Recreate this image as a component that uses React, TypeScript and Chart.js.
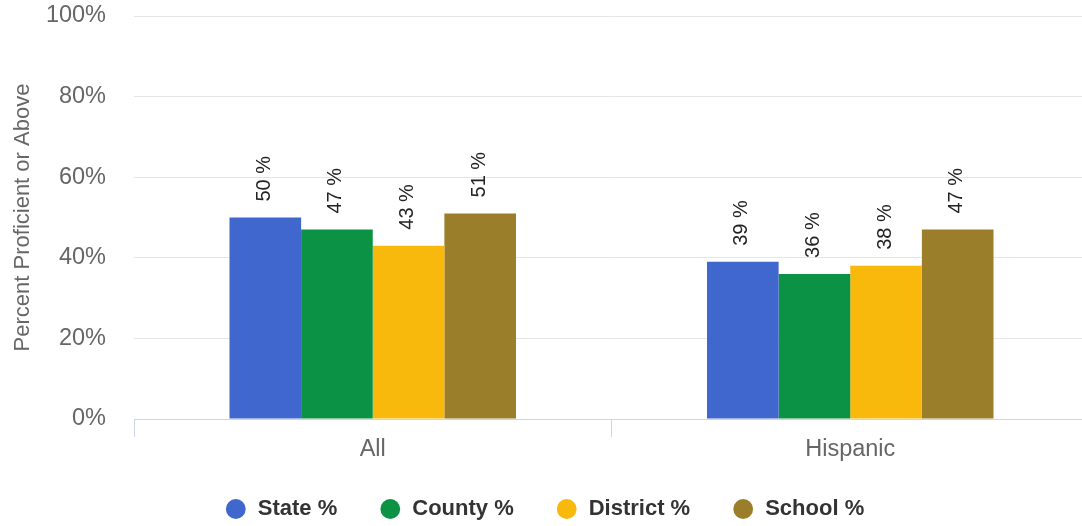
import React, { useEffect, useRef } from "react";
import { Chart, registerables } from "chart.js";

Chart.register(...registerables);

const categories = ["All", "Hispanic"];
const seriesNames = ["State %", "County %", "District %", "School %"];
const stateValues = [50, 39];
const countyValues = [47, 36];
const districtValues = [43, 38];
const schoolValues = [51, 47];
const seriesColors = ["#3f67cd", "#0b9244", "#f8b80c", "#9a7e2a"];
const yTickValues = [0, 20, 40, 60, 80, 100];
const yTitle = "Percent Proficient or Above";

const FONT = "'Liberation Sans', Arial, sans-serif";

const barLabels = {
  id: "barLabels",
  afterDatasetsDraw(chart: any) {
    const ctx = chart.ctx;
    ctx.save();
    ctx.font = `20px ${FONT}`;
    ctx.fillStyle = "#222";
    ctx.textAlign = "left";
    ctx.textBaseline = "middle";
    chart.data.datasets.forEach((ds: any, i: number) => {
      const meta = chart.getDatasetMeta(i);
      meta.data.forEach((bar: any, j: number) => {
        const v = ds.data[j];
        ctx.save();
        ctx.translate(bar.x - 1, bar.y - 16);
        ctx.rotate(-Math.PI / 2);
        ctx.fillText(`${v} %`, 0, 0);
        ctx.restore();
      });
    });
    ctx.restore();
  },
};

// lets the legend sit slightly over the bottom of the category-axis box
const legendNudge = {
  id: "legendNudge",
  afterLayout(chart: any) {
    const lg = chart.legend;
    if (lg) {
      lg.top -= 7;
      lg.bottom -= 7;
    }
  },
};

export default function App() {
  const canvasRef = useRef<HTMLCanvasElement | null>(null);

  useEffect(() => {
    document.body.style.margin = "0";
    const canvas = canvasRef.current;
    if (!canvas) return;
    const allSeries = [stateValues, countyValues, districtValues, schoolValues];
    const chart = new Chart(canvas, {
      type: "bar",
      data: {
        labels: categories,
        datasets: allSeries.map((vals, i) => ({
          label: seriesNames[i],
          data: vals,
          backgroundColor: seriesColors[i],
          borderWidth: 0,
          categoryPercentage: 0.6,
          barPercentage: 1,
        })),
      },
      options: {
        responsive: false,
        animation: false,
        devicePixelRatio: 1,
        layout: { padding: { top: 16, right: 1, bottom: 0, left: 0 } },
        plugins: {
          tooltip: { enabled: false },
          legend: {
            position: "bottom",
            labels: {
              usePointStyle: true,
              pointStyle: "circle",
              boxHeight: 14,
              boxWidth: 22,
              padding: 42,
              color: "#333",
              font: { family: FONT, size: 22, weight: "bold" },
            },
          },
        },
        scales: {
          x: {
            grid: {
              display: true,
              drawOnChartArea: false,
              drawTicks: true,
              tickLength: 18,
              color: "#ccd6eb",
              offset: true,
            },
            border: { display: true, color: "#ccd6eb" },
            ticks: {
              color: "#666",
              padding: -2,
              font: { family: FONT, size: 23.5 },
            },
            afterFit(scale: any) {
              scale.height = 44;
            },
          },
          y: {
            min: yTickValues[0],
            max: yTickValues[yTickValues.length - 1],
            grid: { color: "#e6e6e6", drawTicks: false },
            border: { display: false },
            ticks: {
              stepSize: 20,
              padding: 28,
              color: "#666",
              font: { family: FONT, size: 23.5 },
              callback: (v: any) => `${v}%`,
            },
            title: {
              display: true,
              text: yTitle,
              color: "#666",
              padding: { top: 10, bottom: 0 },
              font: { family: FONT, size: 22 },
            },
            afterFit(scale: any) {
              scale.width = 134;
              scale.paddingTop = 14;
              scale.paddingBottom = 14;
            },
          },
        },
      },
      plugins: [barLabels, legendNudge],
    });
    return () => chart.destroy();
  }, []);

  return (
    <div style={{ width: 1082, height: 526, overflow: "hidden", position: "relative", background: "#fff" }}>
      <canvas ref={canvasRef} width={1090} height={537} style={{ display: "block" }} />
    </div>
  );
}
